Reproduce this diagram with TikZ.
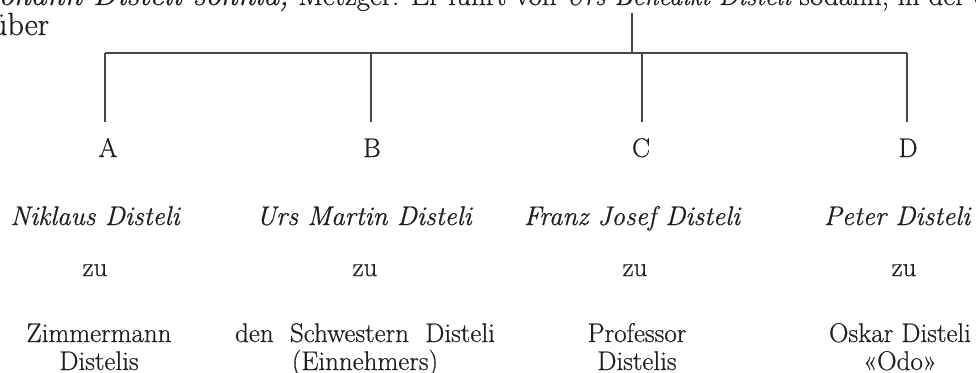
\documentclass[tikz,border=0pt]{standalone}
\usepackage{fontspec}
\setmainfont{Latin Modern Roman}[FakeBold=0.6]
\begin{document}
\begin{tikzpicture}[x=1pt,y=-1pt,
  conn/.style={draw=black!72,line width=1.3pt},
  lbl/.style={anchor=base,inner sep=0pt,text=black!88,font=\fontsize{27}{31}\selectfont},
  iname/.style={anchor=base,inner sep=0pt,text=black!88,font=\fontsize{27}{31}\selectfont\itshape},
  rtext/.style={anchor=base,inner sep=0pt,text=black!88,font=\fontsize{27}{31}\selectfont,align=center},
  hdr/.style={anchor=base west,inner sep=0pt,text=black!88,font=\fontsize{32}{36}\selectfont}]
\useasboundingbox (0,0) rectangle (976,372);
\clip (0,0) rectangle (976,372);
% header text (cut off)
\node[hdr] (h1) at (-18,5) {\textit{Johann Disteli sohnla,} {\fontsize{29}{33}\selectfont Metzger. Er führt von {\fontsize{26}{30}\selectfont\itshape Urs Benedikt Disteli} sodann, in der 8. Klasse}};
\node[hdr] (h2) at (-9,35) {über};
% tree coordinates
\coordinate (top) at (632,13);
\coordinate (j) at (632,53);
\coordinate (ja) at (105,53);
\coordinate (jb) at (371,53);
\coordinate (jc) at (642,53);
\coordinate (jd) at (907,53);
\coordinate (ea) at (105,122);
\coordinate (eb) at (371,122);
\coordinate (ec) at (642,122);
\coordinate (ed) at (907,122);
\draw[conn] (top) -- (j);
\draw[conn] (ja) -- (jd);
\draw[conn] (ja) -- (ea);
\draw[conn] (jb) -- (eb);
\draw[conn] (jc) -- (ec);
\draw[conn] (jd) -- (ed);
% letters
\node[lbl] (A) at (108,157) {A};
\node[lbl] (B) at (372,157) {B};
\node[lbl] (C) at (641,157) {C};
\node[lbl] (D) at (908,157) {D};
% names
\node[iname] (nA) at (95,225) {Niklaus Disteli};
\node[iname] (nB) at (364,225) {Urs Martin Disteli};
\node[iname] (nC) at (632,225) {Franz Josef Disteli};
\node[iname] (nD) at (897,225) {Peter Disteli};
% zu
\node[rtext] (zA) at (95,276) {zu};
\node[rtext] (zB) at (365,276) {zu};
\node[rtext] (zC) at (635,276) {zu};
\node[rtext] (zD) at (904,276) {zu};
% bottom lines
\node[rtext] (bA1) at (99,342) {Zimmermann};
\node[rtext] (bA2) at (99,370) {Distelis};
\node[rtext] (bB1) at (365,342) {den\ \ Schwestern\ \ Disteli};
\node[rtext] (bB2) at (365,370) {(Einnehmers)};
\node[rtext] (bC1) at (637,342) {Professor};
\node[rtext] (bC2) at (637,370) {Distelis};
\node[rtext] (bD1) at (900,342) {Oskar Disteli};
\node[rtext] (bD2) at (900,370) {«Odo»};
\end{tikzpicture}
\end{document}
